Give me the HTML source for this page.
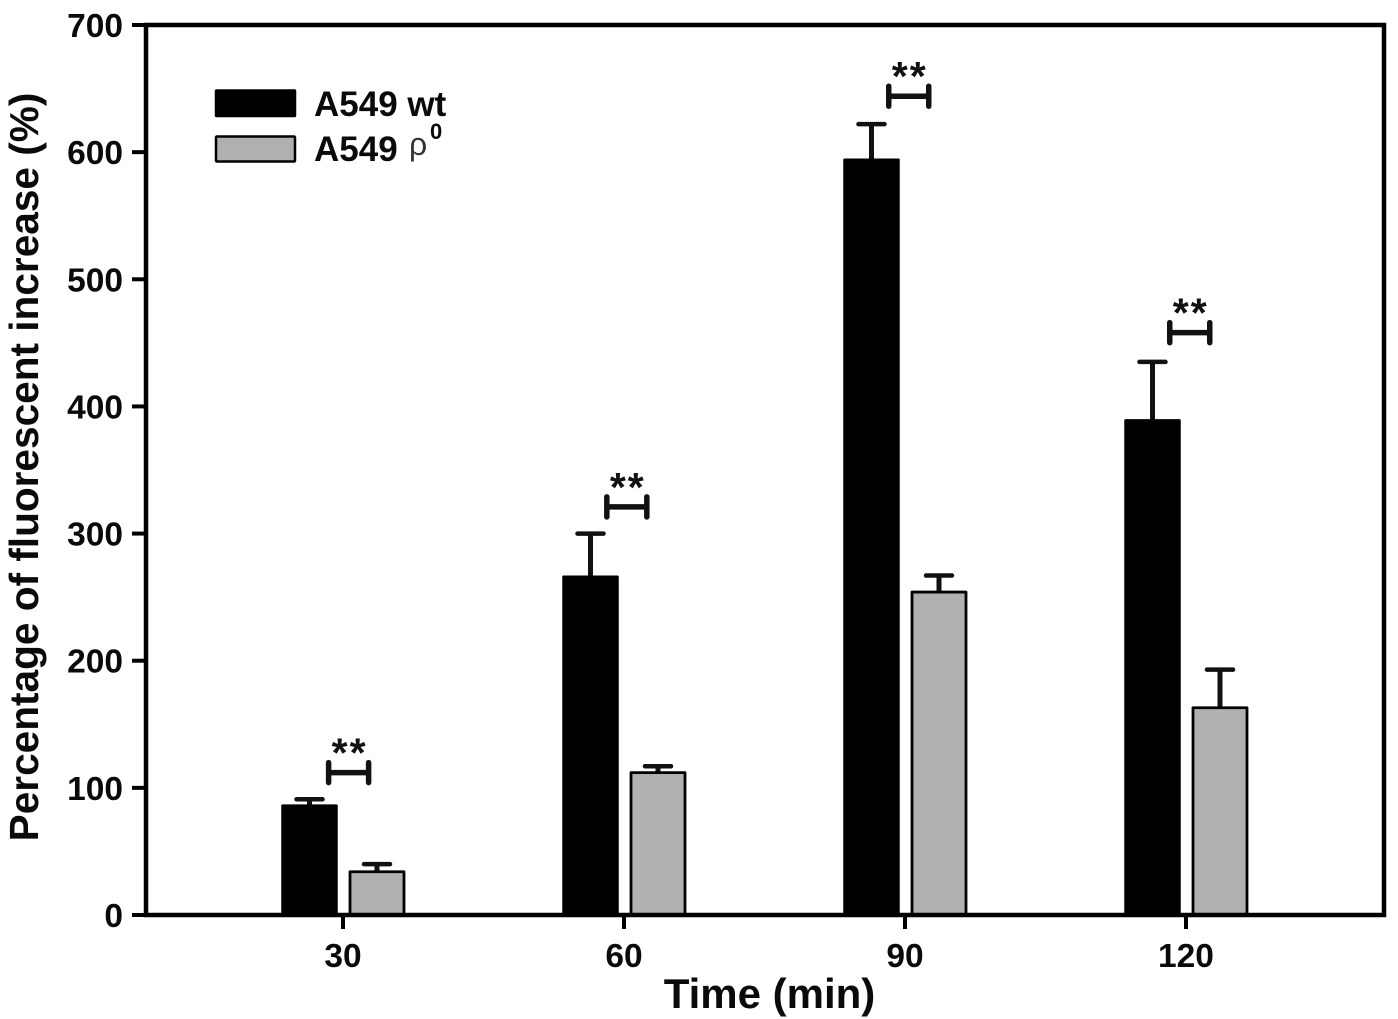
<!DOCTYPE html>
<html>
<head>
<meta charset="utf-8">
<style>
html,body{margin:0;padding:0;background:#fff;}
svg{display:block;font-family:"Liberation Sans",sans-serif;font-weight:bold;}
</style>
</head>
<body>
<svg id="chart" width="1398" height="1019" viewBox="0 0 1398 1019" xmlns="http://www.w3.org/2000/svg">
  <rect x="0" y="0" width="1398" height="1019" fill="#fff"/>
  <g id="bars"></g>
  <g id="axes"></g>
  <text transform="translate(38,467) rotate(-90)" text-anchor="middle" font-size="40.600" fill="#0a0a0a">Percentage of fluorescent increase (%)</text>
  <text x="769.500" y="1008" text-anchor="middle" font-size="42" fill="#0a0a0a">Time (min)</text>
  <g>
    <rect x="215.500" y="90" width="80" height="26.500" rx="1" fill="#000" stroke="#000" stroke-width="1.500"/>
    <text x="314" y="116" font-size="35" fill="#0a0a0a">A549 wt</text>
    <rect x="216" y="136.500" width="79" height="25" rx="1" fill="#b0b0b0" stroke="#000" stroke-width="2.500"/>
    <text x="314" y="161" font-size="35" fill="#0a0a0a">A549</text>
    <text x="409" y="155" font-size="32" font-weight="normal" fill="#333">ρ</text>
    <text x="430" y="139" font-size="22" fill="#0a0a0a">0</text>
  </g>
</svg>
<script>
const categories = ["30", "60", "90", "120"];
const timeValues = [30, 60, 90, 120];
const wtValues = [86, 266, 594, 389];
const wtErrors = [5, 34, 28, 46];
const rhoValues = [34, 112, 254, 163];
const rhoErrors = [6, 5, 13, 30];
const significanceTimes = [30.6, 60.3, 90.4, 120.4];
const significanceLevels = [112, 321, 644, 458];
const significanceLabels = ["**", "**", "**", "**"];
const yTickValues = [0, 100, 200, 300, 400, 500, 600, 700];

const NS = "http://www.w3.org/2000/svg";
const plot = {left: 146, right: 1384, top: 25, bottom: 915};
const yMax = 700;
function yScale(v) { return plot.bottom - (v / yMax) * (plot.bottom - plot.top); }
function xScale(t) { return 343 + (t - 30) * (281 / 30); }
function make(parent, tag, attrs) {
  const el = document.createElementNS(NS, tag);
  for (const k in attrs) el.setAttribute(k, attrs[k]);
  parent.appendChild(el);
  return el;
}
const barsG = document.getElementById("bars");
const axesG = document.getElementById("axes");
const barW = 54;

function drawBar(cx, value, err, fill, strokeW, name) {
  const yTop = yScale(value), yErr = yScale(value + err);
  const line = make(barsG, "line", {x1: cx, x2: cx, y1: yTop, y2: yErr, stroke: "#111", "stroke-width": 5});
  
  
  const cap = make(barsG, "line", {x1: cx - 13, x2: cx + 13, y1: yErr, y2: yErr, stroke: "#111", "stroke-width": 4.5, "stroke-linecap": "round"});
  
  
  const bar = make(barsG, "rect", {x: cx - barW / 2, y: yTop, width: barW, height: plot.bottom - yTop, fill: fill, stroke: "#000", "stroke-width": strokeW, "stroke-linejoin": "round"});
  
  
}

categories.forEach(function (cat, i) {
  const cx = xScale(timeValues[i]);
  drawBar(cx - 33.5, wtValues[i], wtErrors[i], "#000", 2.5, "bar-wt-" + cat);
  drawBar(cx + 34, rhoValues[i], rhoErrors[i], "#b0b0b0", 2.8, "bar-rho0-" + cat);

  const by = yScale(significanceLevels[i]);
  const bc = xScale(significanceTimes[i]);
  const x0 = bc - 20, x1 = bc + 20;
  const bracket = make(barsG, "path", {d: "M" + x0 + " " + by + "H" + x1, stroke: "#111", "stroke-width": 5.5, fill: "none"});
  
  
  const capL = make(barsG, "line", {x1: x0, x2: x0, y1: by - 10, y2: by + 10, stroke: "#111", "stroke-width": 5.5, "stroke-linecap": "round"});
  
  
  const capR = make(barsG, "line", {x1: x1, x2: x1, y1: by - 10, y2: by + 10, stroke: "#111", "stroke-width": 5.5, "stroke-linecap": "round"});
  
  
  const star = make(barsG, "text", {x: bc + 1, y: by - 6, "text-anchor": "middle", "font-size": 41, "letter-spacing": 2, fill: "#111"});
  star.textContent = significanceLabels[i];
  
  

  const tick = make(axesG, "line", {x1: cx, x2: cx, y1: plot.bottom, y2: plot.bottom + 14, stroke: "#000", "stroke-width": 4});
  
  
  const lab = make(axesG, "text", {x: cx, y: 967, "text-anchor": "middle", "font-size": 33.5, fill: "#0a0a0a"});
  lab.textContent = cat;
  
  
});

const frame = make(axesG, "rect", {x: plot.left, y: plot.top, width: plot.right - plot.left, height: plot.bottom - plot.top, fill: "none", stroke: "#000", "stroke-width": 4.5});



yTickValues.forEach(function (v) {
  const y = yScale(v);
  const tick = make(axesG, "line", {x1: plot.left - 14, x2: plot.left, y1: y, y2: y, stroke: "#000", "stroke-width": 4});
  
  
  const lab = make(axesG, "text", {x: 123, y: y + 12, "text-anchor": "end", "font-size": 33.5, fill: "#0a0a0a"});
  lab.textContent = String(v);
  
  
});
</script>
</body>
</html>
